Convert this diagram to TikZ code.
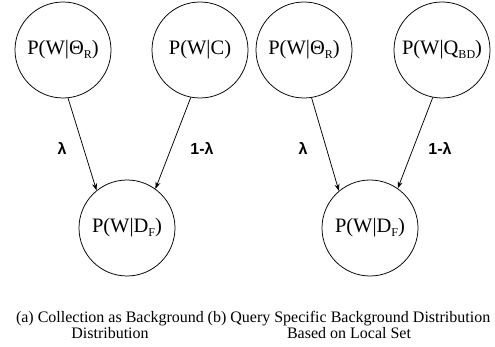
\documentclass[tikz,border=0pt]{standalone}
\usepackage{fontspec}
\setmainfont{Liberation Serif}
\newfontfamily\lblfont{Liberation Sans}
\usetikzlibrary{arrows.meta}
\newcommand\lowsub[1]{\raisebox{-0.35ex}{\fontsize{12}{12}\selectfont #1}}
\tikzset{
  dist/.style={circle, draw, line width=0.75pt, minimum size=96pt, inner sep=0pt,
    font=\fontsize{20.5}{24}\selectfont},
  mix/.style={line width=0.75pt, -{Stealth[length=7pt,width=5pt]}},
  weight/.style={font=\lblfont\bfseries\fontsize{16}{18}\selectfont},
  caption/.style={font=\fontsize{16}{14}\selectfont, align=center}
}
\begin{document}
\begin{tikzpicture}[x=1pt,y=-1pt]
  \useasboundingbox (0,0) rectangle (495,347);
  % (a) collection as background
  \node[dist] (thetaA) at (63,50)  {P(W|Θ\lowsub{R})};
  \node[dist] (coll)   at (200,50) {P(W|C)};
  \node[dist] (docA)   at (127,228) {P(W|D\lowsub{F})};
  \draw[mix] (thetaA.-84) -- (docA.129);
  \draw[mix] (coll.-101) -- (docA.54);
  \node[weight] (lamA)  at (62,148)  {λ};
  \node[weight] (olamA) at (202,148) {1-λ};
  % (b) query specific background
  \node[dist] (thetaB) at (304,50)  {P(W|Θ\lowsub{R})};
  \node[dist] (query)  at (442,50)  {P(W|Q\lowsub{BD})};
  \node[dist] (docB)   at (370,228) {P(W|D\lowsub{F})};
  \draw[mix] (thetaB.-81) -- (docB.130);
  \draw[mix] (query.-101) -- (docB.55);
  \node[weight] (lamB)  at (303,148) {λ};
  \node[weight] (olamB) at (440,148) {1-λ};
  % captions
  \node[caption] (capA) at (110,325) {(a) Collection as Background\\Distribution};
  \node[caption] (capB) at (349,325) {(b) Query Specific Background Distribution\\Based on Local Set};
\end{tikzpicture}
\end{document}
